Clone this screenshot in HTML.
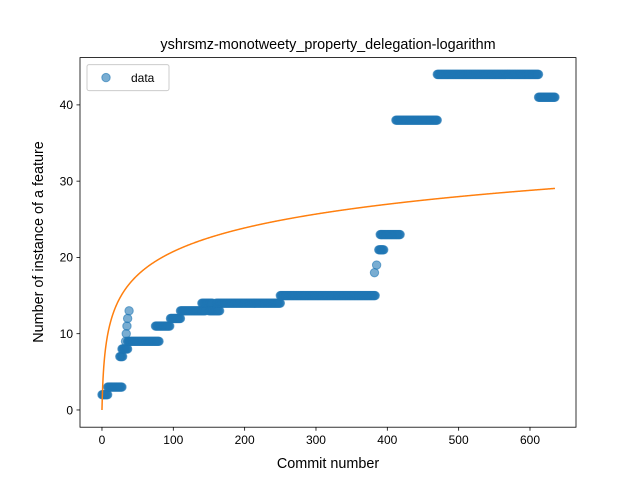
<!DOCTYPE html>
<html><head><meta charset="utf-8"><style>body{margin:0;background:#fff}svg{font-family:"Liberation Sans","DejaVu Sans",sans-serif}</style></head>
<body>
<svg id="chart" width="640" height="480" viewBox="0 0 640 480" xmlns="http://www.w3.org/2000/svg">
<rect width="640" height="480" fill="#fff"/>
<text x="328" y="49" text-anchor="middle" font-size="14.4">yshrsmz-monotweety_property_delegation-logarithm</text>
<g id="plot"></g>
<rect x="80" y="57.6" width="496" height="369.6" fill="none" stroke="#000" stroke-width="0.8"/>
<text x="328" y="468" text-anchor="middle" font-size="14.4">Commit number</text>
<text transform="translate(43,242) rotate(-90)" text-anchor="middle" font-size="14.4">Number of instance of a feature</text>
<g>
<rect x="87" y="64.6" width="82" height="26" rx="2" fill="#fff" fill-opacity="0.8" stroke="#ccc"/>
<circle cx="106" cy="77.6" r="4.2" fill="#1f77b4" fill-opacity="0.6" stroke="#1f77b4" stroke-opacity="0.6"/>
<text x="131" y="82" font-size="12">data</text>
</g>
</svg>
<script>
const runStarts = [0, 8, 25, 28, 33, 34, 35, 36, 38, 36, 75, 96, 110, 140, 150, 160, 250, 382, 385, 388, 390, 412, 470, 612];
const runEnds   = [8, 28, 29, 36, 33, 34, 35, 36, 38, 80, 95, 110, 145, 155, 165, 250, 383, 382, 385, 395, 418, 470, 612, 635];
const runValues = [2, 3, 7, 8, 9, 10, 11, 12, 13, 9, 11, 12, 13, 14, 13, 14, 15, 18, 19, 21, 23, 38, 44, 41];
const fitCoef = [4.5];
const xTicks = [0, 100, 200, 300, 400, 500, 600];
const yTicks = [0, 10, 20, 30, 40];
const xMin = -30.8, xMax = 664.5, yMin = -2.26, yMax = 46.2;
const L = 80, R = 576, T = 57.6, B = 427.2;
const sx = v => L + (v - xMin) / (xMax - xMin) * (R - L);
const sy = v => B - (v - yMin) / (yMax - yMin) * (B - T);
const NS = "http://www.w3.org/2000/svg";
const svg = document.getElementById('chart');
const plot = document.getElementById('plot');
function mk(tag, attrs, parent) { const e = document.createElementNS(NS, tag); for (const k in attrs) e.setAttribute(k, attrs[k]); parent.appendChild(e); return e; }
const pts = mk('g', {}, plot);


let maxC = 0;
for (let i = 0; i < runStarts.length; i++) {
  for (let c = runStarts[i]; c <= runEnds[i]; c++) {
    const p = mk('circle', {cx: sx(c), cy: sy(runValues[i]), r: 4.2, fill: '#1f77b4', 'fill-opacity': 0.6, stroke: '#1f77b4', 'stroke-opacity': 0.6, 'stroke-width': 1}, pts);
    
    
    if (c > maxC) maxC = c;
  }
}
let d = '';
for (let c = 0; c <= maxC; c += 0.5) d += (c ? 'L' : 'M') + sx(c).toFixed(2) + ',' + sy(fitCoef[0] * Math.log(c + 1)).toFixed(2);
const fit = mk('path', {d: d, fill: 'none', stroke: '#ff7f0e', 'stroke-width': 1.5}, plot);


xTicks.forEach(t => {
  const g = mk('g', {}, svg);
  
  
  mk('line', {x1: sx(t), x2: sx(t), y1: B, y2: B + 3.5, stroke: '#000', 'stroke-width': 0.8}, g);
  const tx = mk('text', {x: sx(t), y: B + 17, 'text-anchor': 'middle', 'font-size': 12}, g); tx.textContent = t;
});
yTicks.forEach(t => {
  const g = mk('g', {}, svg);
  
  
  mk('line', {x1: L - 3.5, x2: L, y1: sy(t), y2: sy(t), stroke: '#000', 'stroke-width': 0.8}, g);
  const tx = mk('text', {x: L - 7, y: sy(t) + 4.3, 'text-anchor': 'end', 'font-size': 12}, g); tx.textContent = t;
});
</script>
</body></html>
